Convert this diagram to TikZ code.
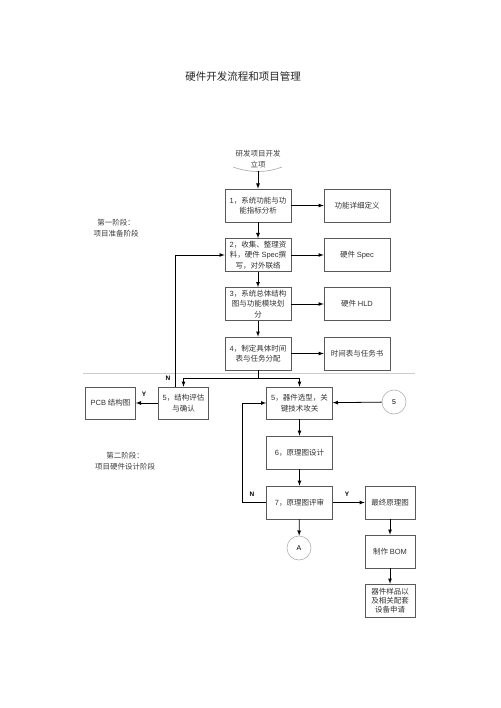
\documentclass[tikz,border=0pt]{standalone}
\usepackage{fontspec}
\setmainfont{Noto Sans CJK SC}
\newfontfamily\lat{Liberation Sans}
\usetikzlibrary{arrows,calc}

\begin{document}
\begin{tikzpicture}[x=1pt,y=-1pt,
  procbox/.style={draw=black!65, line width=0.6pt, minimum width=66pt,
    minimum height=33pt, inner sep=0pt, align=center, text=black!80,
    font=\fontsize{7.5}{10.5}\selectfont},
  smallbox/.style={procbox, minimum width=50pt, minimum height=32pt},
  connector/.style={draw=black!30, line width=0.6pt, circle,
    minimum size=24pt, inner sep=0pt, font=\fontsize{7}{8}\selectfont\lat},
  flow/.style={-latex, line width=0.8pt},
  yn/.style={font=\fontsize{6.5}{7}\selectfont\lat\bfseries},
  stage/.style={align=center, text=black!75, font=\fontsize{7.5}{11}\selectfont}]
  % Page
  \fill[white] (0,0) rectangle (500,708);
  \useasboundingbox (0,0) rectangle (500,708);
  \node[text=black!85, font=\fontsize{10.5}{12}\selectfont] (title) at (243,77) {硬件开发流程和项目管理};
  % Start
  \node[stage] (start) at (258,159.5) {研发项目开发\\立项};
  \draw[black!35, line width=0.6pt] (233,167) .. controls (250,173) and (266,173) .. (282,167);
  \coordinate (startpt) at (258,171);
  % Stage one
  \node[procbox] (sys) at (258,205.5) {{\lat 1}，系统功能与功\\能指标分析};
  \node[procbox] (spec) at (258,255) {{\lat 2}，收集、整理资\\料，硬件 {\lat Spec}撰\\写，对外联络};
  \node[procbox] (arch) at (258,304) {{\lat 3}，系统总体结构\\图与功能模块划\\分};
  \node[procbox] (plan) at (258,353.5) {{\lat 4}，制定具体时间\\表与任务分配};
  \node[procbox] (detail) at (357,205.5) {功能详细定义};
  \node[procbox] (hwspec) at (357,255) {硬件 {\lat Spec}};
  \node[procbox] (hld) at (357,304) {硬件 {\lat HLD}};
  \node[procbox] (sched) at (357,353.5) {时间表与任务书};
  \node[stage] (stage1) at (116,228.5) {第一阶段：\\项目准备阶段};
  % Separator
  \draw[black!20, line width=0.8pt] (83,373) -- (415,373);
  % Stage two
  \node[smallbox] (struct) at (183.5,403) {{\lat 5}，结构评估\\与确认};
  \node[smallbox] (pcb) at (110.5,403) {{\lat PCB} 结构图};
  \node[procbox, minimum height=32pt] (parts) at (299.5,403) {{\lat 5}，器件选型，关\\键技术攻关};
  \node[procbox] (schem) at (299.5,452.5) {{\lat 6}，原理图设计};
  \node[procbox] (review) at (299.5,502.5) {{\lat 7}，原理图评审};
  \node[smallbox, minimum height=33pt] (final) at (390,502.5) {最终原理图};
  \node[smallbox, minimum height=33pt] (bom) at (390,551.5) {制作 {\lat BOM}};
  \node[smallbox, minimum height=33pt, font=\fontsize{7.5}{9.3}\selectfont] (apply) at (390,600.5) {器件样品以\\及相关配套\\设备申请};
  \node[connector] (c5) at (394,402) {5};
  \node[connector] (cA) at (299,548) {A};
  \node[stage] (stage2) at (125,461) {第二阶段：\\项目硬件设计阶段};
  % Connectors
  \draw[flow] (startpt) -- (sys);
  \draw[flow] (sys) -- (spec);
  \draw[flow] (spec) -- (arch);
  \draw[flow] (arch) -- (plan);
  \draw[flow] (sys) -- (detail);
  \draw[flow] (spec) -- (hwspec);
  \draw[flow] (arch) -- (hld);
  \draw[flow] (plan) -- (sched);
  \draw[flow] (plan.south) -- ++(0,8) -| (struct.north);
  \draw[flow] (plan.south) -- ++(0,8) -| (parts.north);
  \draw[flow] ([xshift=-8.5]struct.north) |- (spec.west);
  \node[yn] (n1) at (168,378) {N};
  \draw[flow] (struct) -- (pcb);
  \node[yn] (y1) at (144,394) {Y};
  \draw[flow] (c5) -- (parts);
  \draw[flow] (parts) -- (schem);
  \draw[flow] (schem) -- (review);
  \draw[flow] (review.west) -- ++(-24,0) |- (parts.west);
  \node[yn] (n2) at (252,494) {N};
  \draw[flow] (review) -- (final);
  \node[yn] (y2) at (347,494) {Y};
  \draw[flow] (review) -- (cA);
  \draw[flow] (final) -- (bom);
  \draw[flow] (bom) -- (apply);
\end{tikzpicture}
\end{document}
